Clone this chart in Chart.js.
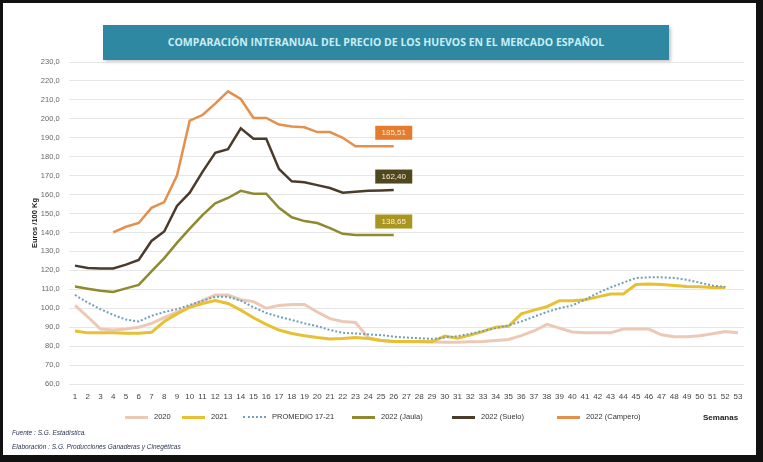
<!DOCTYPE html>
<html>
<head>
<meta charset="utf-8">
<script src="https://cdn.jsdelivr.net/npm/chart.js@4.4.1/dist/chart.umd.min.js"></script>
<style>
  body { margin: 0; width: 763px; height: 462px; overflow: hidden; background: #111; position: relative; }
  #frame { position: absolute; left: 3px; top: 3px; width: 753px; height: 452px; background: #fff; }
  #chart { position: absolute; left: 0; top: 0; }
  #title {
    position: absolute; left: 103px; top: 25px; width: 566px; height: 35px;
    background: #2f88a2; color: #c8eef6; box-shadow: 2px 2px 3px #c8c8c8;
    font: bold 10.5px "Open Sans", "Liberation Sans", sans-serif; line-height: 35px; text-align: center;
  }
  .leg { position: absolute; top: 412px; font: 7.5px "Liberation Sans Narrow", "Liberation Sans", sans-serif; color: #333; white-space: nowrap; }
  .leg i { display: inline-block; width: 23px; height: 0; vertical-align: middle; margin-right: 6px; }
  #semanas { position: absolute; left: 703px; top: 413px; font: bold 8px "Liberation Sans", sans-serif; color: #222; }
  .foot { position: absolute; left: 12px; font: italic 6.5px "Liberation Sans", sans-serif; color: #2a3550; }
</style>
</head>
<body>
<div id="frame"></div>
<div id="title">COMPARACIÓN INTERANUAL DEL PRECIO DE LOS HUEVOS EN EL MERCADO ESPAÑOL</div>
<canvas id="chart" width="763" height="462"></canvas>
<div id="legend"></div>
<div id="semanas">Semanas</div>
<div class="foot" style="top:429px">Fuente : S.G. Estadística.</div>
<div class="foot" style="top:443px">Elaboración : S.G. Producciones Ganaderas y Cinegéticas</div>
<script>
Chart.defaults.animation = false;

// semanas
const weeks = ['1','2','3','4','5','6','7','8','9','10','11','12','13','14','15','16','17','18','19','20',
  '21','22','23','24','25','26','27','28','29','30','31','32','33','34','35','36','37','38','39','40',
  '41','42','43','44','45','46','47','48','49','50','51','52','53'];

// euros / 100 kg
const y2020 = [101.5, 95.5, 89, 88.5, 89, 90, 92, 95, 98, 101, 104, 107, 107, 104.5, 103.5, 100, 101.5, 102, 102, 98,
  94.5, 93, 92.5, 84.5, 83, 82.5, 82.3, 82.3, 82.2, 82, 82, 82.3, 82.5, 83, 83.5, 85.5, 88, 91.5, 89.5, 87.5,
  87, 87, 87, 89, 89, 89, 86, 85, 85, 85.5, 86.5, 87.7, 87];
const y2021 = [88, 87, 87, 87, 86.8, 86.8, 87.3, 93, 97, 100.5, 102.5, 104, 102.5, 99, 95, 91.5, 88.5, 86.7, 85.5, 84.5,
  83.8, 84, 84.5, 84, 83, 82.5, 82.5, 82.5, 82.3, 85.3, 84.2, 85.8, 87.7, 90, 90.5, 97, 99, 100.8, 104, 104,
  104.5, 106, 107.5, 107.5, 112.5, 112.8, 112.5, 112, 111.5, 111.3, 111, 111];
const yProm = [107, 103, 99.5, 96.5, 94, 93, 96, 98, 99.5, 101.7, 104, 106, 106, 104, 100.5, 97.5, 95.5, 93.8, 92, 90.5,
  88.5, 87, 86.7, 86.2, 85.8, 85, 84.5, 84.2, 83.8, 84.5, 85.3, 86.5, 88, 89.5, 91, 93, 95.5, 98, 100, 101.5,
  104.5, 108, 111, 113.5, 116, 116.3, 116.3, 116, 115, 113.5, 112, 111.2];
const yJaula = [111.5, 110.3, 109.2, 108.6, 110.5, 112.3, 119.5, 126.5, 134.5, 142, 149.2, 155.4, 158.2, 162, 160.5, 160.5,
  153, 148, 146, 145, 142.3, 139.3, 138.7, 138.6, 138.6, 138.65];
const ySuelo = [122.5, 121.3, 121, 121, 123, 125.5, 135.5, 140.5, 154, 161, 172, 182, 184, 195, 189.5, 189.5,
  173.5, 167, 166.5, 165, 163.5, 161, 161.5, 162, 162.2, 162.4];
const yCampero = [null, null, null, 140, 143, 145, 153, 156, 170, 199, 202, 208, 214.5, 210.5, 200.5, 200.5,
  197, 196, 195.5, 193, 193, 190, 185.5, 185.5, 185.5, 185.51];

const seriesNames = ['2020', '2021', 'PROMEDIO 17-21', '2022 (Jaula)', '2022 (Suelo)', '2022 (Campero)'];
const seriesColors = ['#ecc9b5', '#e8c033', '#6f9fbf', '#8f8a2f', '#4a3b2b', '#e58f4c'];
const boxColors = [null, null, null, '#a89620', '#4f481e', '#e57b2c'];

function fmt(v, d) { return v.toFixed(d).replace('.', ','); }

// value boxes above the last point of the 2022 series
const endBoxes = {
  id: 'endBoxes',
  afterDatasetsDraw(chart) {
    const ctx = chart.ctx;
    chart.data.datasets.forEach((ds, i) => {
      if (!ds.boxColor) return;
      const last = ds.data.length - 1;
      const pt = chart.getDatasetMeta(i).data[last];
      const cx = pt.x, cy = pt.y - 13.5;
      ctx.save();
      ctx.fillStyle = ds.boxColor;
      ctx.fillRect(cx - 18.5, cy - 7, 37, 14);
      ctx.fillStyle = '#fbecd2';
      ctx.font = '8px "Liberation Sans", sans-serif';
      ctx.textAlign = 'center';
      ctx.textBaseline = 'middle';
      ctx.fillText(fmt(ds.data[last], 2), cx, cy + 0.5);
      ctx.restore();
    });
  }
};

const allData = [y2020, y2021, yProm, yJaula, ySuelo, yCampero];
const widths = [3, 3, 2, 2.5, 2.5, 2.5];
const orders = [5, 4, 0, 3, 2, 1];

new Chart(document.getElementById('chart'), {
  type: 'line',
  data: {
    labels: weeks,
    datasets: allData.map((d, i) => ({
      label: seriesNames[i],
      data: d,
      borderColor: seriesColors[i],
      backgroundColor: seriesColors[i],
      borderWidth: widths[i],
      borderDash: i === 2 ? [2, 2] : [],
      pointRadius: 0,
      tension: 0,
      fill: false,
      order: orders[i],
      boxColor: boxColors[i]
    }))
  },
  options: {
    responsive: false,
    animation: false,
    events: [],
    layout: { padding: { left: 26, right: 18.6, top: 62, bottom: 58 } },
    plugins: { legend: { display: false }, tooltip: { enabled: false } },
    scales: {
      x: {
        offset: true,
        grid: { display: false, drawTicks: false },
        border: { display: false },
        ticks: { autoSkip: false, maxRotation: 0, padding: 8, color: '#444',
          font: { size: 8, family: '"Liberation Sans Narrow", "Liberation Sans", sans-serif' } },
        afterFit(s) { s.height = 20; }
      },
      y: {
        min: 60, max: 230,
        grid: { color: '#e6e6e6', drawTicks: false },
        border: { display: false },
        ticks: { stepSize: 10, padding: 9, color: '#666',
          font: { size: 7.5, family: '"Liberation Sans", sans-serif' },
          callback: v => fmt(v, 1) },
        title: { display: true, text: 'Euros /100 Kg', color: '#222', padding: { top: 4, bottom: 0 },
          font: { size: 7.5, weight: 'bold', family: '"Liberation Sans", sans-serif' } },
        afterFit(s) { s.width = 42.6; }
      }
    }
  },
  plugins: [endBoxes]
});

// legend row
const legX = [125, 182, 243, 352, 452, 557];
const legend = document.getElementById('legend');
seriesNames.forEach((n, i) => {
  const el = document.createElement('div');
  el.className = 'leg';
  el.style.left = legX[i] + 'px';
  const sw = document.createElement('i');
  sw.style.borderTop = (i === 2 ? '2px dotted ' : '3px solid ') + seriesColors[i];
  el.appendChild(sw);
  el.appendChild(document.createTextNode(n));
  legend.appendChild(el);
});
</script>
</body>
</html>
